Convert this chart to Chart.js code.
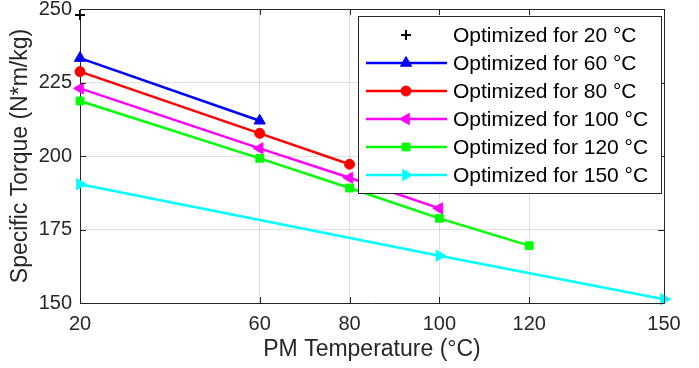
<!DOCTYPE html>
<html>
<head>
<meta charset="utf-8">
<script src="https://cdn.jsdelivr.net/npm/chart.js@4.4.0/dist/chart.umd.min.js"></script>
<style>
  body { margin: 0; background: #fff; }
  #wrap { width: 699px; height: 368px; }
</style>
</head>
<body>
<div id="wrap"><canvas id="torqueChart" width="699" height="368"></canvas></div>
<script>
// tick values
const tempTicks = [20, 60, 80, 100, 120, 150];
const torqueTicks = [150, 175, 200, 225, 250];

// one pair of arrays per design (PM temperature -> specific torque)
const temps20 = [20];
const torque20 = [248];
const temps60 = [20, 60];
const torque60 = [233.3, 212];
const temps80 = [20, 60, 80];
const torque80 = [228.7, 207.7, 197.2];
const temps100 = [20, 60, 80, 100];
const torque100 = [223, 202.6, 192.6, 182.2];
const temps120 = [20, 60, 80, 100, 120];
const torque120 = [218.7, 199.2, 189.1, 178.8, 169.5];
const temps150 = [20, 100, 150];
const torque150 = [190.4, 166.1, 151.3];

const textColor = '#262626';
const gridColor = 'rgba(38,38,38,0.15)';

function pts(xs, ys) {
  return xs.map((x, i) => ({ x: x, y: ys[i] }));
}

function series(label, xs, ys, color, style, rot, r) {
  return {
    label: label,
    data: pts(xs, ys),
    borderColor: color,
    backgroundColor: color,
    borderWidth: 2.5,
    pointStyle: style,
    pointRotation: rot,
    pointRadius: r,
    pointHoverRadius: r,
    pointBorderWidth: style === 'cross' ? 2 : 1,
    showLine: xs.length > 1,
    tension: 0,
    clip: false
  };
}

const datasets = [
  series('Optimized for 20 °C', temps20, torque20, '#000000', 'cross', 0, 5),
  series('Optimized for 60 °C', temps60, torque60, '#0000ff', 'triangle', 0, 6.5),
  series('Optimized for 80 °C', temps80, torque80, '#ff0000', 'circle', 0, 5),
  series('Optimized for 100 °C', temps100, torque100, '#ff00ff', 'triangle', -90, 6.5),
  series('Optimized for 120 °C', temps120, torque120, '#00ff00', 'rect', 0, 5.5),
  series('Optimized for 150 °C', temps150, torque150, '#00ffff', 'triangle', 90, 6.5)
];

// inward tick marks and top/right frame, like the original axes box
const framePlugin = {
  id: 'frame',
  afterDatasetsDraw(chart) {
    const { ctx, chartArea: a, scales } = chart;
    const len = 6;
    ctx.save();
    ctx.strokeStyle = textColor;
    ctx.lineWidth = 1;
    ctx.beginPath();
    tempTicks.forEach(v => {
      const x = Math.round(scales.x.getPixelForValue(v)) + 0.5;
      ctx.moveTo(x, a.bottom); ctx.lineTo(x, a.bottom - len);
      ctx.moveTo(x, a.top); ctx.lineTo(x, a.top + len);
    });
    torqueTicks.forEach(v => {
      const y = Math.round(scales.y.getPixelForValue(v)) + 0.5;
      ctx.moveTo(a.left, y); ctx.lineTo(a.left + len, y);
      ctx.moveTo(a.right, y); ctx.lineTo(a.right - len, y);
    });
    ctx.stroke();
    ctx.beginPath();
    ctx.moveTo(a.left, a.top + 0.5);
    ctx.lineTo(a.right + 0.5, a.top + 0.5);
    ctx.lineTo(a.right + 0.5, a.bottom);
    ctx.stroke();
    ctx.restore();
  }
};

// legend drawn inside the plot, upper right
const legendPlugin = {
  id: 'insideLegend',
  afterDraw(chart) {
    const { ctx, chartArea: a } = chart;
    const l = a.right - 306, t = a.top + 7, w = 303, h = 177;
    ctx.save();
    ctx.fillStyle = '#ffffff';
    ctx.fillRect(l, t, w, h);
    ctx.strokeStyle = textColor;
    ctx.lineWidth = 1;
    ctx.strokeRect(l + 0.5, t + 0.5, w, h);
    ctx.font = '21px "Liberation Sans", Arial, sans-serif';
    ctx.textBaseline = 'middle';
    chart.data.datasets.forEach((ds, i) => {
      const y = t + 19 + i * 28;
      ctx.strokeStyle = ds.borderColor;
      ctx.fillStyle = ds.backgroundColor;
      if (ds.showLine) {
        ctx.lineWidth = ds.borderWidth;
        ctx.beginPath();
        ctx.moveTo(l + 8, y);
        ctx.lineTo(l + 89, y);
        ctx.stroke();
      }
      ctx.lineWidth = ds.pointBorderWidth;
      Chart.helpers.drawPoint(ctx, {
        pointStyle: ds.pointStyle,
        rotation: ds.pointRotation,
        radius: ds.pointRadius,
        borderWidth: ds.pointBorderWidth
      }, l + 48, y);
      ctx.fillStyle = '#000000';
      ctx.fillText(ds.label, l + 95, y + 1);
    });
    ctx.restore();
  }
};

function zeroPad(s) {
  s.paddingLeft = 0; s.paddingRight = 0; s.paddingTop = 0; s.paddingBottom = 0;
}

Chart.defaults.font.family = '"Liberation Sans", Arial, sans-serif';
Chart.defaults.color = textColor;

new Chart(document.getElementById('torqueChart'), {
  type: 'line',
  data: { datasets: datasets },
  plugins: [framePlugin, legendPlugin],
  options: {
    responsive: false,
    animation: false,
    layout: { padding: { top: 9, right: 35, left: 0, bottom: 0 } },
    plugins: {
      legend: { display: false },
      tooltip: { enabled: false }
    },
    scales: {
      x: {
        type: 'linear',
        min: 20,
        max: 150,
        afterBuildTicks: s => { s.ticks = tempTicks.map(v => ({ value: v })); },
        afterFit: s => { s.height = 65; zeroPad(s); },
        ticks: { font: { size: 20 }, color: textColor, padding: 9, maxRotation: 0, autoSkip: false },
        grid: { color: gridColor, drawTicks: false },
        border: { color: textColor, width: 1 },
        title: {
          display: true,
          text: 'PM Temperature (°C)',
          font: { size: 23 },
          color: textColor,
          padding: { top: 0, bottom: 5 }
        }
      },
      y: {
        min: 150,
        max: 250,
        afterBuildTicks: s => { s.ticks = torqueTicks.map(v => ({ value: v })); },
        afterFit: s => { s.width = 80; zeroPad(s); },
        ticks: { font: { size: 20 }, color: textColor, padding: 8 },
        grid: { color: gridColor, drawTicks: false },
        border: { color: textColor, width: 1 },
        title: {
          display: true,
          text: 'Specific Torque (N*m/kg)',
          font: { size: 23 },
          color: textColor,
          padding: { top: 7, bottom: 0 }
        }
      }
    }
  }
});
</script>
</body>
</html>
